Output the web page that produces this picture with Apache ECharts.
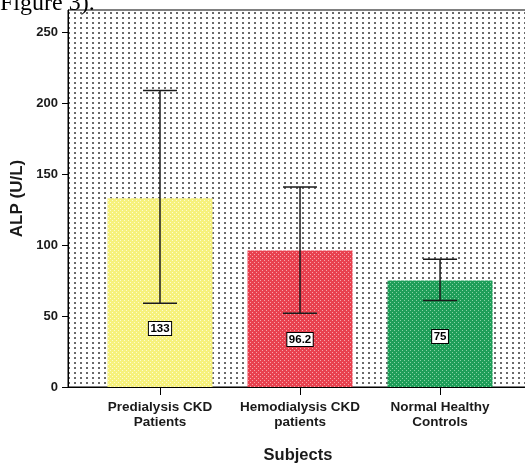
<!DOCTYPE html>
<html>
<head>
<meta charset="utf-8">
<script src="https://cdn.jsdelivr.net/npm/echarts@6/dist/echarts.min.js"></script>
<style>
html,body{margin:0;padding:0;background:#fff;}
#chart{width:525px;height:464px;}
</style>
</head>
<body>
<div id="chart"></div>
<script>
// ---- data ----
const categories = ['Predialysis CKD\nPatients', 'Hemodialysis CKD\npatients', 'Normal Healthy\nControls'];
const means = [133, 96.2, 75];
const lowerCI = [59, 52, 61];
const upperCI = [209, 141, 90];
const yTicks = [0, 50, 100, 150, 200, 250];

// ---- patterns ----
function makePattern(w, h, base, dot, dots) {
  const c = document.createElement('canvas');
  c.width = w; c.height = h;
  const g = c.getContext('2d');
  g.fillStyle = base; g.fillRect(0, 0, w, h);
  g.fillStyle = dot;
  dots.forEach(d => g.fillRect(d[0], d[1], d[2], d[3]));
  return {image: c, repeat: 'repeat'};
}
const bgPattern = makePattern(6, 5, '#ffffff', '#6a6a6a', [[2, 2, 2, 1], [2, 3, 2, 1]]);
const barPatterns = [
  makePattern(4, 4, '#f6f17c', '#fdfbd2', [[0, 0, 1, 1], [2, 2, 1, 1]]),
  makePattern(4, 4, '#e8414f', '#f7a3aa', [[0, 0, 1, 1], [2, 2, 1, 1]]),
  makePattern(4, 4, '#1f9e59', '#86d3a5', [[0, 0, 1, 1], [2, 2, 1, 1]])
];
const labelDistances = [52, 41, 44];

const chart = echarts.init(document.getElementById('chart'), null, {renderer: 'canvas'});
const font = 'Liberation Sans, Arial, sans-serif';

const option = {
  animation: false,
  backgroundColor: '#ffffff',
  graphic: [{
    type: 'text', left: 0, top: -8,
    style: {text: 'Figure 3).', font: '24px "Liberation Serif", "Times New Roman", serif', fill: '#000'}
  }],
  grid: {
    left: 68, top: 10, right: -3, bottom: 77,
    outerBoundsMode: 'none', containLabel: false,
    show: true, backgroundColor: bgPattern, borderColor: '#000', borderWidth: 1
  },
  xAxis: {
    type: 'value', min: -0.657, max: 2.628,
    splitLine: {show: false},
    axisLine: {show: true, onZero: false, lineStyle: {color: '#000', width: 1}},
    axisTick: {show: true, length: 8, customValues: [0, 1, 2], lineStyle: {color: '#000'}},
    axisLabel: {
      customValues: [0, 1, 2], margin: 13,
      formatter: v => categories[Math.round(v)],
      fontFamily: font, fontWeight: 'bold', fontSize: 13.5, lineHeight: 15, color: '#1a1a1a'
    },
    name: 'Subjects', nameLocation: 'middle', nameGap: 60,
    nameTextStyle: {fontFamily: font, fontWeight: 'bold', fontSize: 16.5, color: '#1a1a1a'}
  },
  yAxis: {
    type: 'value', min: 0, max: 265.7,
    splitLine: {show: false},
    axisLine: {show: true, onZero: false, lineStyle: {color: '#000', width: 1}},
    axisTick: {show: true, length: 6, customValues: yTicks, lineStyle: {color: '#000'}},
    axisLabel: {
      customValues: yTicks, margin: 10,
      fontFamily: font, fontWeight: 'bold', fontSize: 13, color: '#1a1a1a'
    },
    name: 'ALP (U/L)', nameLocation: 'middle', nameGap: 34, nameRotate: 90,
    nameTextStyle: {fontFamily: font, fontWeight: 'bold', fontSize: 17, color: '#1a1a1a'}
  },
  series: [
    {
      type: 'bar', barWidth: 105,
      data: means.map((m, i) => ({
        value: [i, m],
        itemStyle: {color: barPatterns[i]},
        label: {distance: labelDistances[i]}
      })),
      label: {
        show: true, position: 'insideBottom',
        formatter: p => String(p.value[1]),
        fontFamily: font, fontWeight: 'bold', fontSize: 11.5, lineHeight: 11, color: '#000',
        backgroundColor: '#fff', borderColor: '#000', borderWidth: 1, padding: [1, 1.5, 1, 1.5]
      }
    },
    {
      type: 'custom',
      data: means.map((m, i) => [i, lowerCI[i], upperCI[i]]),
      renderItem: function (params, api) {
        const lo = api.coord([api.value(0), api.value(1)]);
        const hi = api.coord([api.value(0), api.value(2)]);
        const half = 17;
        const st = {stroke: '#1a1a1a', lineWidth: 1.5};
        return {
          type: 'group',
          children: [
            {type: 'line', shape: {x1: lo[0], y1: lo[1], x2: hi[0], y2: hi[1]}, style: st},
            {type: 'line', shape: {x1: hi[0] - half, y1: hi[1], x2: hi[0] + half, y2: hi[1]}, style: st},
            {type: 'line', shape: {x1: lo[0] - half, y1: lo[1], x2: lo[0] + half, y2: lo[1]}, style: st}
          ]
        };
      },
      z: 5
    }
  ]
};
chart.setOption(option);
</script>
</body>
</html>
